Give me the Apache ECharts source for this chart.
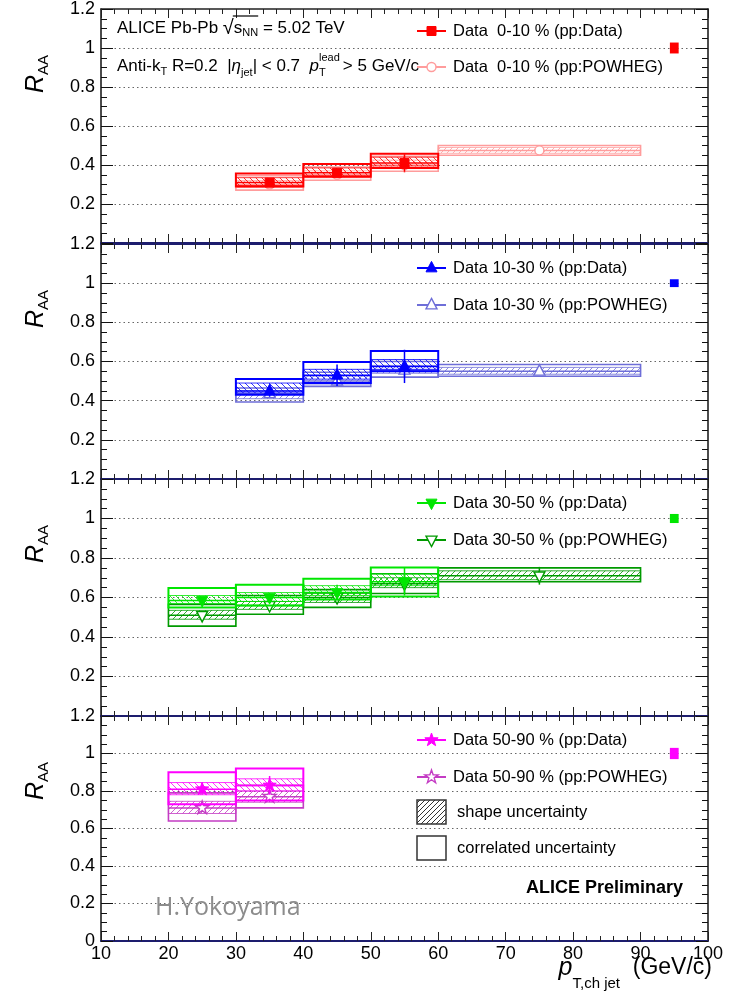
<!DOCTYPE html>
<html>
<head>
<meta charset="UTF-8">
<title>R_AA</title>
<script src="https://cdn.jsdelivr.net/npm/echarts@6/dist/echarts.min.js"></script>
<style>
  html, body { margin: 0; padding: 0; background: #fff; }
  #chart { width: 734px; height: 994px; }
</style>
</head>
<body>
<div id="chart"></div>
<script>
// rows: [pt low, pt high, R_AA, stat err, shape low, shape high, corr low, corr high]
var raa0010Data = [
  [30, 40, 0.31, 0.010, 0.295, 0.335, 0.290, 0.356],
  [40, 50, 0.36, 0.020, 0.345, 0.385, 0.340, 0.405],
  [50, 60, 0.41, 0.045, 0.395, 0.440, 0.385, 0.458]
];
var raa0010Powheg = [
  [30, 40, 0.30, 0.010, 0.285, 0.320, 0.271, 0.345],
  [40, 50, 0.35, 0.020, 0.335, 0.370, 0.322, 0.390],
  [50, 60, 0.40, 0.040, 0.385, 0.425, 0.368, 0.445],
  [60, 90, 0.475, 0.010, 0.460, 0.490, 0.450, 0.500]
];
var raa1030Data = [
  [30, 40, 0.45, 0.030, 0.440, 0.490, 0.430, 0.511],
  [40, 50, 0.53, 0.055, 0.510, 0.560, 0.490, 0.597],
  [50, 60, 0.575, 0.085, 0.560, 0.610, 0.550, 0.653]
];
var raa1030Powheg = [
  [30, 40, 0.435, 0.020, 0.410, 0.450, 0.393, 0.465],
  [40, 50, 0.50, 0.030, 0.485, 0.525, 0.473, 0.545],
  [50, 60, 0.555, 0.040, 0.540, 0.580, 0.520, 0.600],
  [60, 90, 0.55, 0.015, 0.535, 0.570, 0.525, 0.585]
];
var raa3050Data = [
  [20, 30, 0.585, 0.010, 0.570, 0.610, 0.550, 0.648],
  [30, 40, 0.60, 0.020, 0.580, 0.625, 0.560, 0.665],
  [40, 50, 0.625, 0.040, 0.610, 0.660, 0.590, 0.695],
  [50, 60, 0.68, 0.070, 0.660, 0.720, 0.605, 0.752]
];
var raa3050Powheg = [
  [20, 30, 0.51, 0.010, 0.490, 0.535, 0.455, 0.565],
  [30, 40, 0.56, 0.020, 0.540, 0.580, 0.515, 0.610],
  [40, 50, 0.60, 0.030, 0.575, 0.620, 0.550, 0.640],
  [50, 60, 0.67, 0.050, 0.650, 0.700, 0.620, 0.720],
  [60, 90, 0.71, 0.045, 0.690, 0.735, 0.680, 0.750]
];
var raa5090Data = [
  [20, 30, 0.81, 0.030, 0.780, 0.845, 0.730, 0.900],
  [30, 40, 0.83, 0.050, 0.800, 0.865, 0.750, 0.920]
];
var raa5090Powheg = [
  [20, 30, 0.71, 0.020, 0.680, 0.745, 0.640, 0.790],
  [30, 40, 0.77, 0.030, 0.740, 0.800, 0.710, 0.830]
];
// normalisation uncertainty at R_AA = 1: [pt, low, high]
var normUnc = [
  [95, 0.972, 1.028],
  [95, 0.980, 1.020],
  [95, 0.977, 1.023],
  [95, 0.970, 1.030]
];
var legendData = ['Data  0-10 % (pp:Data)', 'Data 10-30 % (pp:Data)', 'Data 30-50 % (pp:Data)', 'Data 50-90 % (pp:Data)'];
var legendPowheg = ['Data  0-10 % (pp:POWHEG)', 'Data 10-30 % (pp:POWHEG)', 'Data 30-50 % (pp:POWHEG)', 'Data 50-90 % (pp:POWHEG)'];
var xTicks = [10, 100, 10];
var yTicks = [0, 1.2, 0.2];

var dataSets = [raa0010Data, raa1030Data, raa3050Data, raa5090Data];
var powhegSets = [raa0010Powheg, raa1030Powheg, raa3050Powheg, raa5090Powheg];

var FONT = '"Liberation Sans", Arial, Helvetica, sans-serif';
var dataColors = ['#ff0000', '#0000ff', '#00e600', '#ff00ff'];
var powhegColors = ['#ff9c9c', '#6e6ed8', '#009a00', '#c43cc4'];
var dataMarkers = ['square', 'up', 'down', 'star'];
var powhegMarkers = ['circle', 'up', 'down', 'star'];
var markerSize = [9, 11, 11, 14];

var panelTop = [9, 244, 479, 716];
var panelHeight = [234, 235, 237, 225];
var legendY = [[31, 67], [268, 305], [503, 540], [740, 777]];

var mctx = document.createElement('canvas').getContext('2d');
function fontOf(p) {
  return (p.it ? 'italic ' : '') + (p.b ? 'bold ' : '') + p.s + 'px ' + (p.f || FONT);
}
function measure(t, p) {
  mctx.font = fontOf(p);
  return mctx.measureText(t).width;
}
// lay out a run of text pieces (sub/superscripts) side by side
function textRun(x, y, parts, anchor) {
  var widths = parts.map(function (p) {
    if (p.w !== undefined) return p.w;
    if (p.wOf) return measure(p.wOf, p);
    return measure(p.t, p);
  });
  var total = widths.reduce(function (a, b) { return a + b; }, 0);
  var cx = anchor === 'right' ? x - total : x;
  var els = [], xs = [];
  parts.forEach(function (p, i) {
    xs.push(cx);
    els.push({
      type: 'text', x: cx, y: y + (p.dy || 0), z: 20,
      style: { text: p.t, font: fontOf(p), fill: p.c || '#000', align: 'left', verticalAlign: 'middle' }
    });
    cx += widths[i];
  });
  return { els: els, xs: xs, widths: widths };
}

function hatch(color, dir, step) {
  var n = step || 6;
  var cv = document.createElement('canvas');
  cv.width = n; cv.height = n;
  var g = cv.getContext('2d');
  g.strokeStyle = color;
  g.lineWidth = 1;
  g.beginPath();
  if (dir > 0) {
    g.moveTo(-1, n + 1); g.lineTo(n + 1, -1);
    g.moveTo(-1, 1); g.lineTo(1, -1);
    g.moveTo(n - 1, n + 1); g.lineTo(n + 1, n - 1);
  } else {
    g.moveTo(-1, -1); g.lineTo(n + 1, n + 1);
    g.moveTo(-1, n - 1); g.lineTo(1, n + 1);
    g.moveTo(n - 1, -1); g.lineTo(n + 1, 1);
  }
  g.stroke();
  return { image: cv, repeat: 'repeat' };
}

function marker(kind, x, y, s, color, open) {
  var style = { fill: open ? '#fff' : color, stroke: color, lineWidth: open ? 1.4 : 1 };
  if (kind === 'square') return { type: 'rect', shape: { x: x - s / 2, y: y - s / 2, width: s, height: s }, style: style };
  if (kind === 'circle') return { type: 'circle', shape: { cx: x, cy: y, r: s / 2 }, style: style };
  var pts = [];
  if (kind === 'up') pts = [[x, y - s * 0.6], [x + s * 0.5, y + s * 0.35], [x - s * 0.5, y + s * 0.35]];
  else if (kind === 'down') pts = [[x, y + s * 0.6], [x + s * 0.5, y - s * 0.35], [x - s * 0.5, y - s * 0.35]];
  else {
    for (var k = 0; k < 10; k++) {
      var r = k % 2 ? s * 0.2 : s * 0.5;
      var a = -Math.PI / 2 + k * Math.PI / 5;
      pts.push([x + r * Math.cos(a), y + r * Math.sin(a)]);
    }
  }
  return { type: 'polygon', shape: { points: pts }, style: style };
}

function makeRender(color, lw, fillPat, kind, open, size) {
  return function (params, api) {
    var x0 = api.value(0), x1 = api.value(1), v = api.value(2), st = api.value(3);
    var xm = (x0 + x1) / 2;
    var s0 = api.coord([x0, api.value(5)]), s1 = api.coord([x1, api.value(4)]);
    var c0 = api.coord([x0, api.value(7)]), c1 = api.coord([x1, api.value(6)]);
    var m = api.coord([xm, v]);
    var eTop = api.coord([xm, v + st]), eBot = api.coord([xm, v - st]);
    var l = api.coord([x0, v]), r = api.coord([x1, v]);
    return {
      type: 'group',
      children: [
        { type: 'rect', shape: { x: s0[0], y: s0[1], width: s1[0] - s0[0], height: s1[1] - s0[1] },
          style: { fill: fillPat, stroke: color, lineWidth: 1, opacity: 0.8 } },
        { type: 'rect', shape: { x: c0[0], y: c0[1], width: c1[0] - c0[0], height: c1[1] - c0[1] },
          style: { fill: 'none', stroke: color, lineWidth: lw } },
        { type: 'line', shape: { x1: l[0], y1: l[1], x2: r[0], y2: r[1] }, style: { stroke: color, lineWidth: 1.5 } },
        { type: 'line', shape: { x1: eTop[0], y1: eTop[1], x2: eBot[0], y2: eBot[1] }, style: { stroke: color, lineWidth: 1.5 } },
        marker(kind, m[0], m[1], size, color, open)
      ]
    };
  };
}

function renderNorm(color) {
  return function (params, api) {
    var a = api.coord([api.value(0) - 0.65, api.value(2)]);
    var b = api.coord([api.value(0) + 0.65, api.value(1)]);
    return { type: 'rect', shape: { x: a[0], y: a[1], width: b[0] - a[0], height: b[1] - a[1] }, style: { fill: color } };
  };
}

var grids = [], xAxes = [], yAxes = [], series = [], graphics = [];
var navy = '#1d1d6e';

for (var i = 0; i < 4; i++) {
  grids.push({ left: 101, right: 26, top: panelTop[i], height: panelHeight[i], containLabel: false, outerBoundsMode: 'none' });
  [0, 1].forEach(function (side) {
    xAxes.push({
      gridIndex: i, type: 'value', min: xTicks[0], max: xTicks[1], interval: xTicks[2],
      position: side ? 'top' : 'bottom',
      axisLine: { show: true, onZero: false, lineStyle: { color: (side && i === 0) ? '#222' : navy, width: side && i === 0 ? 1.5 : 2 } },
      axisTick: { show: true, inside: true, length: 9, lineStyle: { color: '#222', width: 1 } },
      minorTick: { show: true, splitNumber: 5, length: 5, lineStyle: { color: '#222', width: 1 } },
      axisLabel: { show: !side && i === 3, fontSize: 18, fontFamily: FONT, color: '#000', margin: 4 },
      splitLine: { show: false }
    });
  });
  [0, 1].forEach(function (side) {
    yAxes.push({
      gridIndex: i, type: 'value', min: yTicks[0], max: yTicks[1], interval: yTicks[2],
      position: side ? 'right' : 'left',
      axisLine: { show: true, onZero: false, lineStyle: { color: '#111', width: 1.5 } },
      axisTick: { show: true, inside: true, length: 12, lineStyle: { color: '#111', width: 1 } },
      minorTick: { show: true, splitNumber: 4, length: 6, lineStyle: { color: '#111', width: 1 } },
      axisLabel: { show: !side, fontSize: 18, fontFamily: FONT, color: '#000', margin: 6, showMinLabel: i === 3 },
      splitLine: { show: !side, showMinLine: false, showMaxLine: false, lineStyle: { color: '#666', type: [1.5, 3], width: 1 } }
    });
  });

  series.push({
    type: 'custom', name: legendPowheg[i], xAxisIndex: 2 * i, yAxisIndex: 2 * i, z: 2, silent: true,
    data: powhegSets[i],
    renderItem: makeRender(powhegColors[i], 1.6, hatch(powhegColors[i], 1), powhegMarkers[i], true, markerSize[i])
  });
  series.push({
    type: 'custom', name: legendData[i], xAxisIndex: 2 * i, yAxisIndex: 2 * i, z: 3, silent: true,
    data: dataSets[i],
    renderItem: makeRender(dataColors[i], 2, hatch(dataColors[i], -1), dataMarkers[i], false, markerSize[i])
  });
  series.push({
    type: 'custom', xAxisIndex: 2 * i, yAxisIndex: 2 * i, z: 3, silent: true,
    data: [normUnc[i]],
    renderItem: renderNorm(dataColors[i])
  });

  // legend entries
  [[legendData[i], dataColors[i], dataMarkers[i], false], [legendPowheg[i], powhegColors[i], powhegMarkers[i], true]].forEach(function (e, k) {
    var ly = legendY[i][k];
    graphics.push({ type: 'line', z: 20, shape: { x1: 417, y1: ly, x2: 446, y2: ly }, style: { stroke: e[1], lineWidth: 2 } });
    var mk = marker(e[2], 431.5, ly, markerSize[i], e[1], e[3]);
    mk.z = 21;
    graphics.push(mk);
    graphics.push({ type: 'text', x: 453, y: ly, z: 20,
      style: { text: e[0], font: '16.5px ' + FONT, fill: '#000', align: 'left', verticalAlign: 'middle' } });
  });

  // R_AA axis title (rotated)
  var rW = measure('R', { s: 25, it: true });
  var aW = measure('AA', { s: 15 });
  var start = -(rW + aW) / 2;
  graphics.push({
    type: 'group', x: 36, y: panelTop[i] + 65, rotation: Math.PI / 2,
    children: [
      { type: 'text', x: start, y: 0, z: 20, style: { text: 'R', font: fontOf({ s: 25, it: true }), fill: '#000', verticalAlign: 'middle' } },
      { type: 'text', x: start + rW, y: 8, z: 20, style: { text: 'AA', font: fontOf({ s: 15 }), fill: '#000', verticalAlign: 'middle' } }
    ]
  });
}

// shape / correlated uncertainty legend
graphics.push({ type: 'rect', z: 20, shape: { x: 417, y: 800, width: 29, height: 24 }, style: { fill: hatch('#333', 1, 5), stroke: '#333', lineWidth: 1.5 } });
graphics.push({ type: 'text', x: 457, y: 812, z: 20, style: { text: 'shape uncertainty', font: '16.5px ' + FONT, fill: '#000', verticalAlign: 'middle' } });
graphics.push({ type: 'rect', z: 20, shape: { x: 417, y: 836, width: 29, height: 24 }, style: { fill: '#fff', stroke: '#333', lineWidth: 1.5 } });
graphics.push({ type: 'text', x: 457, y: 848, z: 20, style: { text: 'correlated uncertainty', font: '16.5px ' + FONT, fill: '#000', verticalAlign: 'middle' } });

// header text
var line1 = textRun(117, 28, [
  { t: 'ALICE Pb-Pb ', s: 17 },
  { t: '\u221A', s: 20 },
  { t: 's', s: 17 },
  { t: 'NN', s: 11, dy: 5 },
  { t: ' = 5.02 TeV', s: 17 }
]);
graphics = graphics.concat(line1.els);
graphics.push({ type: 'line', z: 20, shape: { x1: line1.xs[2] - 1, y1: 16, x2: line1.xs[4], y2: 16 }, style: { stroke: '#000', lineWidth: 1.2 } });

var line2 = textRun(117, 66, [
  { t: 'Anti-k', s: 17 },
  { t: 'T', s: 11, dy: 6 },
  { t: ' R=0.2  |', s: 17 },
  { t: '\u03B7', s: 17, it: true },
  { t: 'jet', s: 11, dy: 7 },
  { t: '| < 0.7  ', s: 17 },
  { t: 'p', s: 17, it: true },
  { t: 'lead', s: 11, dy: -8, w: 0 },
  { t: 'T', s: 11, dy: 7, wOf: 'lead ' },
  { t: '> 5 GeV/c', s: 17 }
]);
graphics = graphics.concat(line2.els);

graphics = graphics.concat(textRun(683, 888, [{ t: 'ALICE Preliminary', s: 18, b: true }], 'right').els);

// x axis title
graphics = graphics.concat(textRun(712, 968, [
  { t: 'p', s: 25, it: true },
  { t: 'T,ch jet', s: 15, dy: 16 },
  { t: '  (GeV/c)', s: 23 }
], 'right').els);

// watermark
graphics.push({ type: 'text', x: 155, y: 908, z: 20,
  style: { text: 'H.Yokoyama', font: '25px "Open Sans", "Noto Sans", sans-serif', fill: '#8c8c8c', verticalAlign: 'middle' } });

var chart = echarts.init(document.getElementById('chart'), null, { renderer: 'canvas' });
chart.setOption({
  animation: false,
  backgroundColor: '#fff',
  grid: grids,
  xAxis: xAxes,
  yAxis: yAxes,
  series: series,
  graphic: { elements: graphics }
});
</script>
</body>
</html>
